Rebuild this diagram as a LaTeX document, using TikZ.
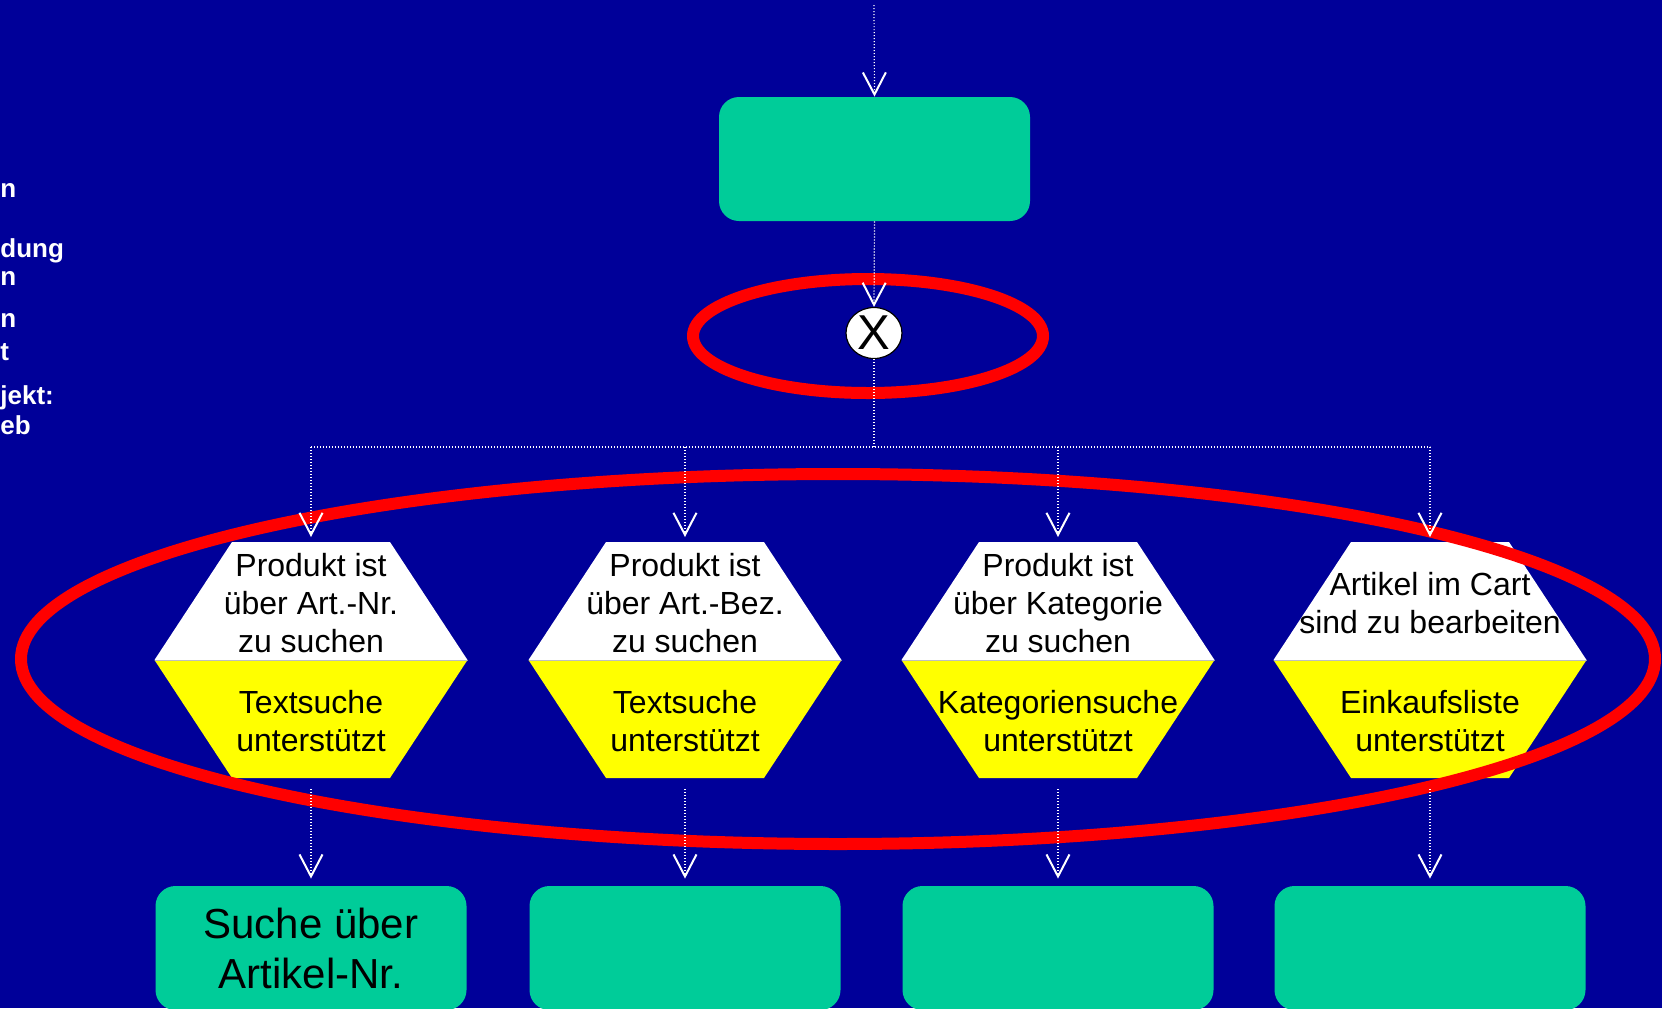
\documentclass[tikz,border=0pt]{standalone}
\usepackage{fontspec}
\setmainfont{Liberation Sans}
\usetikzlibrary{calc,positioning,shapes,arrows.meta}
\definecolor{bgblue}{RGB}{0,0,153}
\definecolor{fngreen}{RGB}{0,204,153}
\definecolor{evyellow}{RGB}{255,255,0}
\definecolor{ringred}{RGB}{255,0,0}

\begin{document}
\begin{tikzpicture}[x=0.5pt, y=-0.5pt,
  ln/.style={white, line width=0.6pt, dash pattern=on 0.6pt off 0.9pt},
  flw/.style={ln, -{Straight Barb[length=11pt,width=11.5pt,line width=1pt]}},
  fn/.style={fill=fngreen, rounded corners=10pt, minimum width=155.5pt, minimum height=62pt, inner sep=0pt, align=center, font=\fontsize{21pt}{25pt}\selectfont},
  evtxt/.style={inner sep=0pt, align=center, font=\fontsize{16pt}{19pt}\selectfont},
  xr/.style={ellipse, draw=black, fill=white, line width=0.6pt, minimum width=28pt, minimum height=25.5pt, inner sep=0pt, font=\fontsize{24.5pt}{25pt}\selectfont},
  ring/.style={ringred, line width=6pt},
  lbl/.style={white, inner sep=0pt, font=\fontsize{13pt}{14pt}\bfseries}]
\tikzstyle{ev}=[minimum width=156.5pt, minimum height=118pt, inner sep=0pt, outer sep=0pt,
  path picture={
    \fill[white] ([xshift=38.75pt]path picture bounding box.north west) -- ([xshift=-38.75pt]path picture bounding box.north east) -- (path picture bounding box.east) -- (path picture bounding box.west) -- cycle;
    \fill[evyellow] (path picture bounding box.west) -- (path picture bounding box.east) -- ([xshift=-38.75pt]path picture bounding box.south east) -- ([xshift=38.75pt]path picture bounding box.south west) -- cycle;
    \draw[black!25, line width=0.5pt] (path picture bounding box.west) -- (path picture bounding box.east);
  }]
\useasboundingbox (0,0) rectangle (1662,1008);
\fill[bgblue] (0,0) rectangle (1662,1008);
% left-over slide text at the left edge
\foreach \t/\y [count=\k] in {n/197, dung/257, n/285, n/327, t/360, {jekt:}/404, eb/434}{
  \node[lbl, anchor=base west] (side\k) at (0,\y) {\t};
}
\node[fn] (fn0) at (874.5,159) {};
\node[xr] (xor) at (874,333) {X};
\foreach \i/\cx/\q/\a/\f in {
  1/311/{Produkt ist\\über Art.-Nr.\\zu suchen}/{Textsuche\\unterstützt}/{Suche über\\Artikel-Nr.},
  2/685/{Produkt ist\\über Art.-Bez.\\zu suchen}/{Textsuche\\unterstützt}/{},
  3/1058/{Produkt ist\\über Kategorie\\zu suchen}/{Kategoriensuche\\unterstützt}/{},
  4/1430/{Artikel im Cart\\sind zu bearbeiten}/{Einkaufsliste\\unterstützt}/{}}{
  \node[ev] (ev\i) at (\cx,660) {};
  \node[evtxt] (evq\i) at ([yshift=28.25pt]ev\i.center) {\q};
  \node[evtxt] (eva\i) at ([yshift=-30.75pt]ev\i.center) {\a};
  \node[fn] (fn\i) at (\cx,948) {\f};
}
\draw[ring] (868,336) ellipse [x radius=87.5pt, y radius=28.5pt];
\draw[ring] (838,659) ellipse [x radius=408.5pt, y radius=92.5pt];
\coordinate (in) at (874,5);
\coordinate (bus) at (0,447);
\draw[flw] (in) -- (fn0.north);
\draw[flw] (fn0.south) -- (xor.north);
\draw[ln] (xor.south) -- (xor.south |- bus);
\draw[ln] (ev1.north |- bus) -- (ev4.north |- bus);
\foreach \i in {1,...,4}{
  \draw[flw, shorten >=2.5pt] (ev\i.north |- bus) -- (ev\i.north);
  \draw[flw, shorten <=5.5pt, shorten >=3.5pt] (ev\i.south) -- (fn\i.north);
}
\end{tikzpicture}
\end{document}
